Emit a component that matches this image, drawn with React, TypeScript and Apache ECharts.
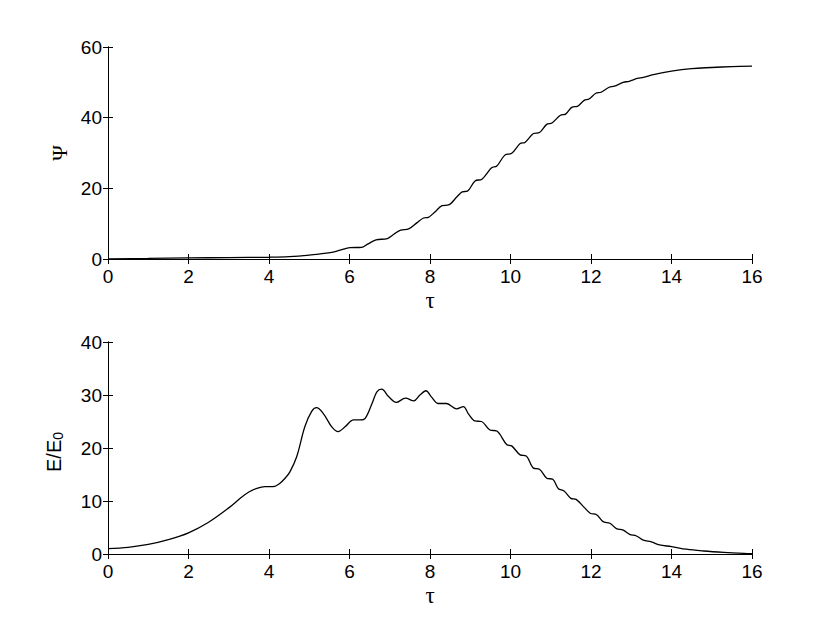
import React, { useEffect, useRef } from "react";
import * as echarts from "echarts";

// Top panel: Ψ vs τ
const psiTau = [0, 1, 2, 3, 4, 4.5, 5.0, 5.52, 5.77, 6.01, 6.3, 6.45, 6.66, 6.94, 7.1, 7.27, 7.47, 7.68, 7.84, 7.96, 8.13, 8.3, 8.46, 8.67, 8.8, 8.93, 9.12, 9.29, 9.53, 9.66, 9.86, 10.03, 10.24, 10.36, 10.57, 10.72, 10.9, 11.03, 11.24, 11.37, 11.53, 11.66, 11.83, 11.95, 12.12, 12.25, 12.45, 12.58, 12.8, 12.95, 13.15, 13.3, 13.55, 14, 14.5, 15, 15.5, 16];
const psiVal = [0.05, 0.15, 0.3, 0.4, 0.5, 0.65, 1.1, 1.8, 2.5, 3.2, 3.3, 4.2, 5.4, 5.8, 7.0, 8.2, 8.5, 10.3, 11.6, 11.8, 13.4, 15.1, 15.3, 17.6, 19.0, 19.2, 22.1, 22.6, 25.8, 26.3, 29.4, 29.9, 32.7, 33.0, 35.5, 35.8, 38.1, 38.5, 40.7, 41.0, 43.0, 43.2, 44.9, 45.3, 46.9, 47.2, 48.6, 48.9, 50.0, 50.3, 51.1, 51.4, 52.2, 53.2, 53.9, 54.2, 54.45, 54.6];

// Bottom panel: E/E0 vs τ
const eTau = [0, 0.5, 1.0, 1.5, 2.0, 2.5, 3.0, 3.3, 3.5, 3.7, 3.9, 4.1, 4.25, 4.4, 4.52, 4.69, 4.89, 5.06, 5.18, 5.35, 5.56, 5.72, 5.89, 6.1, 6.26, 6.39, 6.56, 6.68, 6.8, 6.97, 7.16, 7.39, 7.6, 7.75, 7.9, 8.04, 8.2, 8.41, 8.66, 8.83, 8.95, 9.12, 9.28, 9.49, 9.66, 9.91, 10.03, 10.24, 10.39, 10.57, 10.72, 10.9, 11.05, 11.19, 11.33, 11.5, 11.63, 11.83, 11.98, 12.14, 12.3, 12.47, 12.63, 12.8, 12.96, 13.13, 13.3, 13.5, 13.7, 14.0, 14.37, 14.8, 15.3, 15.8, 16];
const eVal = [1.0, 1.25, 1.8, 2.7, 4.0, 6.0, 8.7, 10.6, 11.7, 12.4, 12.7, 12.7, 13.2, 14.3, 15.5, 18.4, 24.0, 26.9, 27.6, 26.5, 24.0, 23.1, 24.0, 25.3, 25.3, 25.6, 28.4, 30.6, 31.1, 29.7, 28.6, 29.4, 28.9, 30.0, 30.8, 29.6, 28.4, 28.4, 27.4, 27.8, 26.5, 25.1, 25.0, 23.4, 23.2, 20.6, 20.4, 18.7, 18.5, 16.2, 16.0, 14.3, 14.1, 12.3, 11.9, 10.5, 10.3, 8.8, 7.7, 7.4, 6.1, 5.8, 4.8, 4.5, 3.7, 3.4, 2.6, 2.3, 1.7, 1.4, 0.9, 0.57, 0.3, 0.1, 0.05];

const xTicks = { min: 0, max: 16, interval: 2 };
const psiTicks = { min: 0, max: 60, interval: 20 };
const eTicks = { min: 0, max: 40, interval: 10 };

const SANS = "'Liberation Sans', Arial, Helvetica, sans-serif";
const SERIF = "'Liberation Serif', 'DejaVu Serif', serif";

export default function App() {
  const ref = useRef<HTMLDivElement>(null);
  useEffect(() => {
    if (!ref.current) return;
    const chart = echarts.init(ref.current, null, { renderer: "svg" });
    const line = { lineStyle: { color: "#000", width: 1 } };
    const tick = { inside: true, length: 5, lineStyle: { color: "#000", width: 1 } };
    const lbl = { color: "#000", fontSize: 19, fontFamily: SANS };
    const mkX = (gi: number, bottom: boolean) => ({
      type: "value",
      gridIndex: gi,
      position: bottom ? "bottom" : "top",
      ...xTicks,
      axisLine: { show: true, ...line },
      axisTick: tick,
      axisLabel: bottom ? { ...lbl, margin: 8 } : { show: false },
      splitLine: { show: false },
      name: bottom ? "τ" : "",
      nameLocation: "middle",
      nameGap: 30,
      nameTextStyle: { color: "#000", fontSize: 23, fontFamily: SERIF },
    });
    const mkY = (gi: number, left: boolean, t: any) => ({
      type: "value",
      gridIndex: gi,
      position: left ? "left" : "right",
      ...t,
      axisLine: { show: true, ...line },
      axisTick: tick,
      axisLabel: left ? { ...lbl, margin: 6 } : { show: false },
      splitLine: { show: false },
    });
    chart.setOption({
      animation: false,
      backgroundColor: "#fff",
      grid: [
        { left: 108, top: 47, width: 644, height: 212 },
        { left: 108, top: 342, width: 644, height: 212 },
      ],
      xAxis: [mkX(0, true), mkX(0, false), mkX(1, true), mkX(1, false)],
      yAxis: [mkY(0, true, psiTicks), mkY(0, false, psiTicks), mkY(1, true, eTicks), mkY(1, false, eTicks)],
      series: [
        {
          type: "line",
          xAxisIndex: 0,
          yAxisIndex: 0,
          data: psiTau.map((t, i) => [t, psiVal[i]]),
          showSymbol: false,
          symbol: "none",
          smooth: 0.35,
          lineStyle: { color: "#000", width: 1.3 },
        },
        {
          type: "line",
          xAxisIndex: 2,
          yAxisIndex: 2,
          data: eTau.map((t, i) => [t, eVal[i]]),
          showSymbol: false,
          symbol: "none",
          smooth: 0.35,
          lineStyle: { color: "#000", width: 1.3 },
        },
      ],
      graphic: [
        {
          type: "text",
          x: 60,
          y: 153,
          rotation: Math.PI / 2,
          style: {
            text: "Ψ",
            fill: "#000",
            fontSize: 21,
            fontFamily: SERIF,
            align: "center",
            verticalAlign: "middle",
          },
        },
        {
          type: "text",
          x: 54,
          y: 452,
          rotation: Math.PI / 2,
          style: {
            text: "{a|E/E}{b|0}",
            fill: "#000",
            align: "center",
            verticalAlign: "middle",
            rich: {
              a: { fontSize: 20, fontFamily: SANS, lineHeight: 21, verticalAlign: "top", fill: "#000" },
              b: { fontSize: 14, fontFamily: SANS, lineHeight: 14, verticalAlign: "bottom", fill: "#000" },
            },
          },
        },
      ],
    });
    return () => chart.dispose();
  }, []);
  return <div ref={ref} style={{ position: "absolute", left: 0, top: 0, width: 830, height: 625 }} />;
}
